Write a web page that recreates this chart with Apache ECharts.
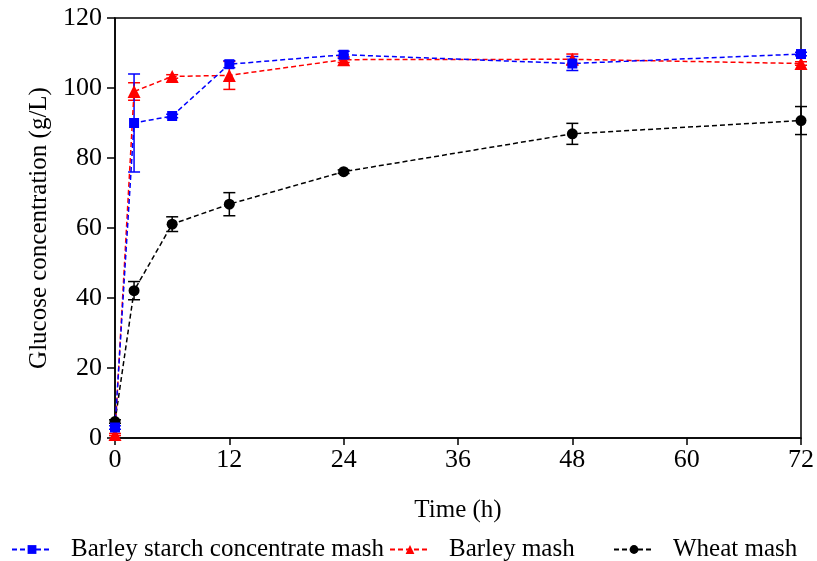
<!DOCTYPE html>
<html>
<head>
<meta charset="utf-8">
<script src="https://cdn.jsdelivr.net/npm/echarts@6/dist/echarts.min.js"></script>
<style>html,body{margin:0;padding:0;background:#fff}#c{width:817px;height:561px}</style>
</head>
<body>
<div id="c"></div>
<script>
const timeH = [0, 2, 6, 12, 24, 48, 72];
const bscMean = [3, 90, 92, 106.8, 109.5, 107, 109.7];
const bscErr  = [0.5, 14, 0.5, 1, 1, 2, 0.5];
const barleyMean = [1, 99, 103.3, 103.6, 108.1, 108.2, 107];
const barleyErr  = [0.3, 2.5, 0.5, 4, 0.8, 1.5, 0.5];
const wheatMean = [4.7, 42.1, 61.1, 66.8, 76.1, 86.9, 90.7];
const wheatErr  = [0.5, 2.6, 2.1, 3.3, 0.5, 3, 4];
const seriesNames = ['Barley starch concentrate mash', 'Barley mash', 'Wheat mash'];
const yTicks = [0, 20, 40, 60, 80, 100, 120];
const xTicks = [0, 12, 24, 36, 48, 60, 72];

const FONT = '"Liberation Serif", "Times New Roman", serif';
const chart = echarts.init(document.getElementById('c'));

function pairs(m) { return timeH.map((t, i) => [t, m[i]]); }
function errData(m, e) { return timeH.map((t, i) => [t, m[i] - e[i], m[i] + e[i]]); }
function errSeries(m, e, color) {
  return {
    type: 'custom', silent: true, z: 1,
    data: errData(m, e),
    renderItem: function (params, api) {
      const x = api.value(0);
      const lo = api.coord([x, api.value(1)]);
      const hi = api.coord([x, api.value(2)]);
      const w = 6;
      const st = { stroke: color, lineWidth: 1.5 };
      return {
        type: 'group',
        children: [
          { type: 'line', shape: { x1: lo[0], y1: lo[1], x2: hi[0], y2: hi[1] }, style: st },
          { type: 'line', shape: { x1: lo[0] - w, y1: lo[1], x2: lo[0] + w, y2: lo[1] }, style: st },
          { type: 'line', shape: { x1: hi[0] - w, y1: hi[1], x2: hi[0] + w, y2: hi[1] }, style: st }
        ]
      };
    }
  };
}
function lineSeries(name, m, color, symbol, size) {
  return {
    name: name, type: 'line', data: pairs(m), z: 3,
    symbol: symbol, symbolSize: size, showAllSymbol: true,
    itemStyle: { color: color },
    lineStyle: { color: color, width: 1.5, type: [5, 3] }
  };
}
const legendCommon = {
  top: 532, itemWidth: 40, itemHeight: 11,
  textStyle: { fontFamily: FONT, fontSize: 25, color: '#000', padding: [0, 0, 0, 14] }
};

chart.setOption({
  animation: false,
  backgroundColor: '#fff',
  grid: { left: 115, right: 13, top: 18, bottom: 123, show: true, borderColor: '#000', borderWidth: 1.5 },
  legend: [
    Object.assign({}, legendCommon, { left: 6, data: [seriesNames[0]] }),
    Object.assign({}, legendCommon, { left: 384, data: [seriesNames[1]] }),
    Object.assign({}, legendCommon, { left: 608, data: [seriesNames[2]] })
  ],
  xAxis: {
    type: 'value', min: xTicks[0], max: xTicks[xTicks.length - 1], interval: 12,
    name: 'Time (h)', nameLocation: 'middle', nameGap: 60,
    nameTextStyle: { fontFamily: FONT, fontSize: 25, color: '#000' },
    axisLine: { lineStyle: { color: '#000', width: 1.5 } },
    axisTick: { show: true, length: 7, lineStyle: { color: '#000', width: 1.5 } },
    axisLabel: { fontFamily: FONT, fontSize: 26, color: '#000', margin: 9 },
    splitLine: { show: false }
  },
  yAxis: {
    type: 'value', min: yTicks[0], max: yTicks[yTicks.length - 1], interval: 20,
    name: 'Glucose concentration (g/L)', nameLocation: 'middle', nameGap: 57,
    nameTextStyle: { fontFamily: FONT, fontSize: 25, color: '#000' },
    axisLine: { show: true, lineStyle: { color: '#000', width: 1.5 } },
    axisTick: { show: true, length: 8, lineStyle: { color: '#000', width: 1.5 } },
    axisLabel: { fontFamily: FONT, fontSize: 26, color: '#000', margin: 13 },
    splitLine: { show: false }
  },
  series: [
    errSeries(wheatMean, wheatErr, '#000000'),
    errSeries(barleyMean, barleyErr, '#ff0000'),
    errSeries(bscMean, bscErr, '#0000ff'),
    lineSeries(seriesNames[2], wheatMean, '#000000', 'circle', 11),
    lineSeries(seriesNames[1], barleyMean, '#ff0000', 'triangle', 13),
    lineSeries(seriesNames[0], bscMean, '#0000ff', 'rect', 10)
  ]
});
</script>
</body>
</html>
